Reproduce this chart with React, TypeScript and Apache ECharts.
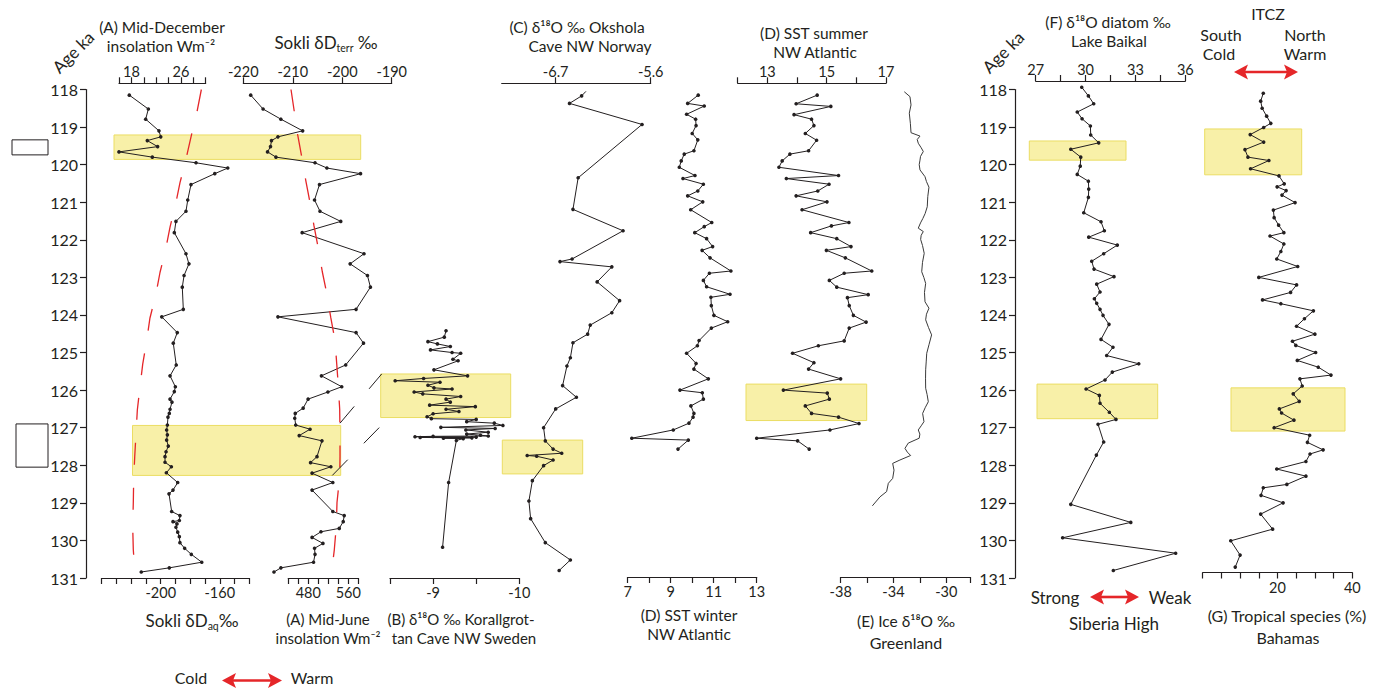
import React, { useEffect, useRef } from "react";
import * as echarts from "echarts";

const FONT = 'Lato, "Noto Sans", "DejaVu Sans", sans-serif';
const INK = "#231f20";
const RED = "#e52629";
const BAND = "#f8f0a8";
const BAND_EDGE = "#ebdd63";

const AGE_MIN = 118;
const AGE_MAX = 131;

// (A) Sokli δDaq (bottom axis)
const aqAge = [118.15,118.52,118.79,119.10,119.26,119.36,119.52,119.66,119.80,119.95,120.09,120.24,120.53,120.94,121.24,121.51,121.81,122.37,122.64,122.95,123.26,123.85,124.05,124.47,124.75,125.33,125.62,125.91,126.04,126.24,126.32,126.51,126.62,126.72,126.93,127.06,127.19,127.33,127.49,127.64,127.77,127.92,128.04,128.20,128.46,128.66,128.76,129.23,129.34,129.47,129.50,129.56,129.65,129.78,129.90,130.06,130.21,130.37,130.58,130.73,130.84];
const aqVal = [-221.3,-208.4,-210.2,-201.2,-200.0,-209.1,-202.1,-228.3,-205.7,-176.1,-154.6,-163.4,-179.5,-181.7,-182.9,-189.7,-190.8,-182.9,-180.9,-184.2,-185.4,-184.7,-199.3,-188.8,-191.5,-189.5,-193.7,-190.1,-190.8,-193.7,-192.4,-193.7,-194.2,-195.1,-195.5,-196.0,-195.5,-196.0,-194.9,-196.4,-197.1,-197.1,-192.8,-196.2,-188.5,-191.7,-194.4,-192.6,-187.0,-187.4,-191.7,-189.0,-189.7,-188.5,-187.4,-187.0,-183.8,-179.3,-172.2,-194.2,-213.2];

// Mid-December insolation (top axis, red dashed)
const decAge = [118.0,118.63,119.26,119.85,120.48,121.04,121.66,122.25,122.87,123.47,124.08,124.68,125.31,125.91,126.53,127.15,127.77,128.37,128.99,129.62,130.25,130.87];
const decVal = [29.3,28.55,27.63,26.82,25.85,25.16,24.24,23.54,22.62,21.93,21.0,20.47,19.83,19.39,18.96,18.75,18.54,18.37,18.31,18.21,18.31,18.58];

// Sokli δDterr (top axis)
const terrAge = [118.15,118.52,118.79,119.10,119.26,119.36,119.52,119.66,119.80,119.95,120.09,120.24,120.53,120.94,121.24,121.51,121.81,122.37,122.64,122.95,123.26,123.85,124.05,124.47,124.75,125.33,125.62,125.91,126.05,126.24,126.48,126.62,126.75,126.93,127.04,127.21,127.35,127.77,127.93,128.04,128.21,128.46,128.66,129.23,129.34,129.50,129.68,129.77,129.92,130.08,130.21,130.37,130.58,130.73,130.84];
const terrVal = [-218.5,-216.0,-212.4,-208.0,-213.0,-214.3,-214.5,-215.1,-213.4,-205.5,-203.1,-196.3,-204.6,-205.6,-204.5,-200.3,-208.1,-195.6,-198.4,-194.9,-194.3,-197.2,-213.0,-197.2,-195.7,-199.3,-204.2,-200.1,-202.9,-206.9,-207.9,-209.5,-209.6,-209.4,-206.5,-208.7,-204.1,-205.1,-206.4,-202.3,-206.1,-201.9,-206.1,-201.9,-199.6,-199.8,-200.6,-204.3,-206.1,-203.9,-205.6,-205.5,-205.8,-212.4,-213.8];

// Mid-June insolation (bottom axis, red dashed)
const junAge = [118.0,118.59,119.21,119.79,120.41,121.01,121.63,122.23,122.85,123.42,124.06,124.67,125.29,125.89,126.51,127.15,127.77,128.3,128.99,129.62,130.25,130.83];
const junVal = [445.4,452,458.8,466.8,474.8,483.4,491.4,500,508,516.8,524.8,533.4,536.8,540,542.8,543.4,543.4,542.8,537.4,536,532,526.8];

// (B) Korallgrottan δ18O
const korAge = [124.42,124.59,124.71,124.77,124.84,124.93,125.00,125.02,125.18,125.22,125.46,125.62,125.69,125.75,125.79,125.87,125.94,125.97,126.05,126.10,126.17,126.24,126.32,126.40,126.44,126.51,126.57,126.63,126.71,126.76,126.78,126.84,126.88,126.94,126.99,127.02,127.06,127.12,127.17,127.20,127.22,127.23,127.24,127.25,127.26,127.27,127.28,127.29,127.34,128.46,130.18];
const korVal = [-9.15,-9.13,-8.94,-9.05,-9.20,-8.97,-9.22,-9.32,-9.23,-9.29,-9.01,-9.40,-8.89,-8.56,-9.08,-8.94,-9.01,-9.22,-8.78,-8.88,-9.32,-9.15,-9.20,-8.96,-9.49,-9.15,-9.30,-9.00,-8.93,-8.98,-9.50,-9.39,-9.71,-9.81,-9.09,-9.72,-9.38,-9.64,-9.39,-9.55,-9.64,-9.00,-8.79,-9.50,-8.85,-9.45,-9.12,-9.35,-9.27,-9.18,-9.11];

// (C) Okshola δ18O
const okAge = [118.05,118.17,118.37,118.93,120.35,121.19,121.76,122.51,122.58,122.72,123.12,123.62,123.94,124.27,124.51,124.74,125.14,125.36,125.88,126.19,126.50,127.00,127.35,127.57,127.68,127.74,127.76,127.86,128.01,128.41,128.95,129.42,130.06,130.52,130.80];
const okVal = [-6.35,-6.40,-6.54,-5.70,-6.44,-6.50,-5.92,-6.51,-6.65,-6.05,-6.22,-5.96,-6.05,-6.30,-6.33,-6.50,-6.53,-6.57,-6.62,-6.46,-6.70,-6.84,-6.82,-6.73,-6.63,-7.03,-6.92,-6.73,-6.84,-6.97,-7.01,-6.99,-6.82,-6.53,-6.66];

// (D) SST winter
const winAge = [118.15,118.37,118.44,118.66,118.79,118.96,119.17,119.34,119.63,119.72,119.90,120.07,120.29,120.37,120.52,120.70,120.83,120.99,121.20,121.54,121.65,121.81,121.97,122.18,122.28,122.48,122.83,122.89,123.08,123.25,123.45,123.53,123.75,124.01,124.18,124.35,124.68,124.82,125.02,125.29,125.44,125.70,126.00,126.07,126.24,126.42,126.62,126.72,126.88,127.06,127.28,127.33,127.57];
const winVal = [10.28,9.79,10.56,9.74,10.16,10.18,10.0,10.26,10.08,9.63,9.49,9.40,10.13,9.57,10.52,10.26,9.79,10.49,9.93,10.91,10.56,10.12,10.67,10.95,10.46,10.83,11.80,10.80,10.52,10.67,11.76,10.87,10.89,11.01,11.65,10.89,10.32,10.24,9.74,10.18,10.08,10.75,9.43,10.47,10.52,9.94,10.08,10.04,9.85,9.12,7.19,9.82,9.34];

// (D) SST summer
const sumAge = [118.15,118.38,118.45,118.67,118.79,118.96,119.17,119.35,119.63,119.72,119.90,120.07,120.29,120.37,120.52,120.70,120.83,120.99,121.20,121.54,121.63,121.81,121.97,122.18,122.28,122.48,122.83,122.89,123.08,123.26,123.46,123.54,123.75,124.01,124.19,124.35,124.69,124.82,125.02,125.27,125.44,125.70,126.00,126.08,126.24,126.42,126.62,126.72,126.89,127.06,127.28,127.35,127.57];
const sumVal = [14.68,13.97,15.14,13.90,14.49,14.57,14.28,14.66,14.39,13.76,13.50,13.39,15.40,13.64,15.08,14.70,13.97,15.01,14.17,15.75,15.16,14.46,15.34,15.82,14.99,15.63,16.52,15.59,15.09,15.34,16.40,15.70,15.76,15.90,16.33,15.76,15.59,14.72,13.85,14.57,14.39,15.47,13.54,15.02,15.09,14.28,14.49,15.40,16.09,15.11,12.64,14.02,14.41];

// (E) Greenland ice δ18O
const iceAge = [118.06,118.19,118.41,118.63,118.90,119.15,119.24,119.33,119.43,119.55,119.65,119.78,119.88,120.00,120.14,120.32,120.45,120.60,120.85,121.12,121.30,121.43,121.55,121.69,121.78,121.88,121.99,122.15,122.36,122.60,122.85,123.00,123.16,123.40,123.65,123.82,123.98,124.13,124.33,124.53,124.78,125.02,125.25,125.46,125.70,125.95,126.12,126.31,126.47,126.62,126.84,126.95,127.06,127.17,127.28,127.41,127.55,127.65,127.74,127.86,127.95,128.13,128.35,128.48,128.70,128.84,129.08];
const iceVal = [-33.18,-32.75,-32.67,-32.80,-32.72,-32.67,-31.99,-32.20,-32.12,-31.90,-31.74,-31.95,-31.99,-32.05,-31.99,-31.61,-31.50,-31.31,-31.40,-31.44,-31.60,-31.77,-31.95,-32.12,-31.74,-31.90,-31.94,-31.80,-31.67,-31.80,-31.86,-31.70,-31.56,-31.65,-31.61,-31.31,-31.50,-31.56,-31.35,-31.11,-31.30,-31.48,-31.52,-31.56,-31.57,-31.56,-31.45,-31.36,-31.60,-31.79,-31.69,-31.90,-32.12,-32.00,-32.05,-32.88,-33.13,-32.95,-32.70,-33.51,-34.06,-33.96,-34.06,-34.39,-34.52,-35.02,-35.60];

// (F) Lake Baikal δ18O diatom
const bkAge = [117.94,118.17,118.38,118.60,118.78,118.97,119.21,119.42,119.59,119.80,120.04,120.26,120.44,120.65,120.87,121.28,121.52,121.76,121.93,122.14,122.37,122.57,122.78,122.98,123.18,123.39,123.57,123.69,123.85,124.01,124.25,124.65,124.86,125.08,125.30,125.52,125.73,125.97,126.14,126.35,126.59,126.78,126.91,127.38,127.73,129.04,129.52,129.93,130.34,130.80];
const bkVal = [29.77,30.17,30.49,29.50,29.79,30.29,30.31,30.79,29.11,29.71,29.68,29.50,30.17,30.19,30.17,29.89,30.93,31.13,30.19,31.91,31.09,30.37,30.51,31.71,30.67,30.87,30.53,30.67,30.87,31.05,31.41,30.93,31.65,31.27,33.20,31.61,31.17,30.03,30.83,30.87,31.43,31.83,30.75,31.09,30.65,29.11,32.72,28.62,35.42,31.67];

// (G) Tropical species Bahamas
const tpAge = [118.10,118.31,118.50,118.71,118.90,119.01,119.20,119.40,119.60,119.80,119.89,120.11,120.30,120.51,120.59,120.69,120.81,121.01,121.21,121.41,121.61,121.81,121.90,122.11,122.31,122.51,122.71,123.00,123.20,123.40,123.60,123.70,123.89,124.10,124.30,124.51,124.70,124.81,125.00,125.21,125.39,125.60,125.70,125.89,126.10,126.30,126.50,126.61,126.80,127.00,127.20,127.39,127.59,127.70,127.90,128.10,128.29,128.51,128.60,128.80,129.00,129.30,129.70,130.01,130.39,130.71];
const tpVal = [16.2,15.5,15.9,17.1,18.2,16.3,12.7,16.3,11.3,12.1,17.7,12.8,20.4,21.8,19.9,22.3,21.2,24.7,18.9,19.1,20.3,21.7,18.0,21.7,20.9,19.8,25.4,15.0,25.1,23.5,16.0,20.9,29.6,27.2,25.1,30.0,24.0,24.9,30.2,25.3,30.9,34.3,26.0,26.6,24.2,25.8,20.5,21.1,24.4,19.1,28.6,28.0,32.2,28.7,27.6,19.8,27.6,22.5,16.2,15.6,21.5,15.5,18.7,7.5,10.0,8.7];

// Axis ticks / labels
const decTicks = [16, 18, 20, 22, 24, 26, 28, 30];
const decLabels = [18, 26];
const aqTicks = [-240, -230, -220, -210, -200, -190, -180, -170, -160, -150, -140];
const aqLabels = [-200, -160];
const terrTicks = [-220, -210, -200, -190];
const terrLabels = [-220, -210, -200, -190];
const junTicks = [440, 460, 480, 500, 520, 540, 560, 580];
const junLabels = [480, 560];
const korTicks = [-8.5, -9, -9.5, -10];
const korLabels = [-9, -10];
const okTicks = [-6.7, -5.6];
const okLabels = [-6.7, -5.6];
const winTicks = [7, 8, 9, 10, 11, 12, 13];
const winLabels = [7, 9, 11, 13];
const sumTicks = [12, 13, 14, 15, 16, 17];
const sumLabels = [13, 15, 17];
const iceTicks = [-38, -36, -34, -32, -30, -28.2];
const iceLabels = [-38, -34, -30];
const bkTicks = [27, 28.5, 30, 31.5, 33, 34.5, 36];
const bkLabels = [27, 30, 33, 36];
const tpTicks = [0, 5, 10, 15, 20, 25, 30, 35, 40];
const tpLabels = [20, 40];

// Highlighted intervals (ages) and correlation links
const bandAges = [[119.21, 119.86], [126.94, 128.27], [125.57, 126.73], [127.33, 128.23], [125.84, 126.81], [119.37, 119.88], [125.84, 126.76], [119.05, 120.27], [125.94, 127.09]];
const boxAges = [[119.34, 119.74], [126.9, 128.05]];
const linkAges = [[126.88, 125.57], [128.27, 126.93]];

// Layout (pixels) — kept apart from data
const PLOT_TOP = 89.5;
const PLOT_H = 488.5;
const bandSpan = [[114, 360.7], [132.5, 340.7], [380.7, 510.7], [502.3, 582.7], [746, 866.7], [1029.3, 1126], [1037, 1157.7], [1204.7, 1301.7], [1231, 1345]];
const boxSpan = [[12, 48], [16, 48]];
const linkSpan = [[340, 381.7], [332.3, 381.7]];

const zip = (age: number[], val: number[]) => age.map((a, i) => [val[i], a]);

type PanelDef = {
  left: number; width: number; min: number; max: number;
  pos: "top" | "bottom"; ticks: number[]; labels: number[];
  offset?: number; inverse?: boolean;
};

const panels: PanelDef[] = [
  { left: 101.7, width: 147.6, min: -240, max: -140, pos: "bottom", ticks: aqTicks, labels: aqLabels },
  { left: 119, width: 86.7, min: 16, max: 30, pos: "top", ticks: decTicks, labels: decLabels, offset: 6.2 },
  { left: 243.3, width: 148.4, min: -220, max: -190, pos: "top", ticks: terrTicks, labels: terrLabels, offset: 6.2 },
  { left: 288.3, width: 70, min: 440, max: 580, pos: "bottom", ticks: junTicks, labels: junLabels },
  { left: 390, width: 129.3, min: -10, max: -8.5, pos: "bottom", ticks: korTicks, labels: korLabels, inverse: true },
  { left: 501.7, width: 149, min: -7.325, max: -5.6, pos: "top", ticks: okTicks, labels: okLabels, offset: 6.2 },
  { left: 627.7, width: 129, min: 7, max: 13, pos: "bottom", ticks: winTicks, labels: winLabels, offset: -1 },
  { left: 737.7, width: 148.3, min: 12, max: 17, pos: "top", ticks: sumTicks, labels: sumLabels, offset: 6.2 },
  { left: 840.7, width: 129.3, min: -38, max: -28.2, pos: "bottom", ticks: iceTicks, labels: iceLabels, offset: -1 },
  { left: 1035.7, width: 149.6, min: 27, max: 36, pos: "top", ticks: bkTicks, labels: bkLabels, offset: 8.5 },
  { left: 1202.7, width: 149.6, min: 0, max: 40, pos: "bottom", ticks: tpTicks, labels: tpLabels, offset: -5.5 },
];

function buildOption() {
  const grids: any[] = [];
  const xAxes: any[] = [];
  const yAxes: any[] = [];
  const hiddenY = (gi: number) => ({ type: "value", gridIndex: gi, min: AGE_MIN, max: AGE_MAX, inverse: true, show: false });
  const ageAxis = (gi: number) => ({
    type: "value", gridIndex: gi, min: AGE_MIN, max: AGE_MAX, inverse: true, interval: 1, position: "left",
    axisLine: { show: true, onZero: false, lineStyle: { color: INK, width: 1.2 } },
    axisTick: { show: true, length: 6, lineStyle: { color: INK, width: 1.2 } },
    axisLabel: { show: true, color: INK, fontSize: 16, fontFamily: FONT, margin: 8 },
    splitLine: { show: false },
  });
  const gridAt = (left: number, width: number) => ({ left, width, top: PLOT_TOP, height: PLOT_H, outerBoundsMode: "none", containLabel: false });

  grids.push(gridAt(86, 20));
  xAxes.push({ type: "value", gridIndex: 0, show: false, min: 0, max: 1 });
  yAxes.push(ageAxis(0));

  panels.forEach((p, k) => {
    const gi = k + 1;
    grids.push(gridAt(p.left, p.width));
    xAxes.push({
      type: "value", gridIndex: gi, min: p.min, max: p.max, position: p.pos, inverse: !!p.inverse,
      offset: p.offset || 0,
      axisLine: { show: true, onZero: false, lineStyle: { color: INK, width: 1.2 } },
      axisTick: { show: true, length: 6, customValues: p.ticks, lineStyle: { color: INK, width: 1.2 } },
      axisLabel: { show: true, customValues: p.labels, color: INK, fontSize: 14.5, fontFamily: FONT, margin: p.pos === "top" ? 4 : 7 },
      splitLine: { show: false },
    });
    yAxes.push(hiddenY(gi));
  });

  grids.push(gridAt(1015, 20));
  xAxes.push({ type: "value", gridIndex: 12, show: false, min: 0, max: 1 });
  yAxes.push(ageAxis(12));

  grids.push(gridAt(0, 1376));
  xAxes.push({ type: "value", gridIndex: 13, show: false, min: 0, max: 1376 });
  yAxes.push(hiddenY(13));

  const dotLine = (gi: number, data: any[]) => ({
    type: "line", xAxisIndex: gi, yAxisIndex: gi, data, clip: false,
    symbol: "circle", symbolSize: 3.6, showSymbol: true, showAllSymbol: true,
    lineStyle: { color: INK, width: 1 }, itemStyle: { color: INK }, z: 3, silent: true,
  });
  const dashLine = (gi: number, data: number[][]) => ({
    type: "line", xAxisIndex: gi, yAxisIndex: gi, data, clip: false, symbol: "none",
    lineStyle: { color: RED, width: 1.3, type: [22, 23] }, z: 3, silent: true,
  });

  const areas: any[] = [];
  bandAges.forEach((b, i) => {
    areas.push([
      { coord: [bandSpan[i][0], b[0]], itemStyle: { color: BAND, borderColor: BAND_EDGE, borderWidth: 1 } },
      { coord: [bandSpan[i][1], b[1]] },
    ]);
  });
  boxAges.forEach((b, i) => {
    areas.push([
      { coord: [boxSpan[i][0], b[0]], itemStyle: { color: "#ffffff", borderColor: INK, borderWidth: 1 } },
      { coord: [boxSpan[i][1], b[1]] },
    ]);
  });
  const links = linkAges.map((l, i) => [
    { coord: [linkSpan[i][0], l[0]] },
    { coord: [linkSpan[i][1], l[1]] },
  ]);

  // Okshola record begins with an undotted line end
  const okData: any[] = zip(okAge, okVal).map((p, i) => (i === 0 ? { value: p, symbol: "none" } : p));

  const series: any[] = [
    {
      type: "line", xAxisIndex: 13, yAxisIndex: 13, data: [], symbol: "none", silent: true, z: 1,
      markArea: { silent: true, label: { show: false }, data: areas },
      markLine: { silent: true, symbol: ["none", "none"], label: { show: false }, lineStyle: { color: INK, width: 1, type: [22, 23] }, data: links },
    },
    dotLine(1, zip(aqAge, aqVal)),
    dashLine(2, zip(decAge, decVal)),
    dotLine(3, zip(terrAge, terrVal)),
    dashLine(4, zip(junAge, junVal)),
    dotLine(5, zip(korAge, korVal)),
    dotLine(6, okData),
    dotLine(7, zip(winAge, winVal)),
    dotLine(8, zip(sumAge, sumVal)),
    {
      type: "line", xAxisIndex: 9, yAxisIndex: 9, data: zip(iceAge, iceVal), clip: false, symbol: "none",
      lineStyle: { color: "#3a3a3a", width: 1 }, z: 3, silent: true,
    },
    dotLine(10, zip(bkAge, bkVal)),
    dotLine(11, zip(tpAge, tpVal)),
  ];

  const txt = (x: number, y: number, text: string, size = 15, rot = 0) => ({
    type: "text", x, y, rotation: rot, silent: true, z: 10,
    style: { text, fontSize: size, fontFamily: FONT, fill: INK, align: "center", verticalAlign: "middle" },
  });
  const subTxt = (x: number, y: number, main: string, sub: string, tail: string, size = 17) => ({
    type: "text", x, y, silent: true, z: 10,
    style: {
      text: `{m|${main}}{s|${sub}}{m|${tail}}`, align: "center", verticalAlign: "middle",
      rich: {
        m: { fontSize: size, fontFamily: FONT, fill: INK, lineHeight: 22 },
        s: { fontSize: 10.5, fontFamily: FONT, fill: INK, lineHeight: 12, verticalAlign: "bottom" },
      },
    },
  });
  const arrow = (x1: number, x2: number, y: number) => [
    { type: "line", silent: true, z: 10, shape: { x1: x1 + 10, y1: y, x2: x2 - 10, y2: y }, style: { stroke: RED, lineWidth: 2.6 } },
    { type: "polygon", silent: true, z: 10, shape: { points: [[x1, y], [x1 + 14, y - 7.5], [x1 + 11, y], [x1 + 14, y + 7.5]] }, style: { fill: RED } },
    { type: "polygon", silent: true, z: 10, shape: { points: [[x2, y], [x2 - 14, y - 7.5], [x2 - 11, y], [x2 - 14, y + 7.5]] }, style: { fill: RED } },
  ];

  const graphic = [
    txt(73, 52, "Age ka", 17, Math.PI / 4),
    txt(1003, 52, "Age ka", 17, Math.PI / 4),
    txt(162, 27, "(A) Mid-December", 15.5),
    txt(161, 46, "insolation Wm⁻²", 15.5),
    subTxt(326, 42, "Sokli δD", "terr", " ‰", 17),
    txt(577, 27, "(C) δ¹⁸O ‰ Okshola", 15.5),
    txt(590, 46, "Cave NW Norway", 15.5),
    txt(814, 33, "(D) SST summer", 15.5),
    txt(815, 52, "NW Atlantic", 15.5),
    txt(1108, 22, "(F) δ¹⁸O diatom ‰", 15.5),
    txt(1109, 41, "Lake Baikal", 15.5),
    txt(1268, 13, "ITCZ", 16),
    txt(1221, 34, "South", 16),
    txt(1219, 53, "Cold", 16),
    txt(1305, 34, "North", 16),
    txt(1305, 53, "Warm", 16),
    ...arrow(1234, 1298, 72),
    subTxt(192, 620, "Sokli δD", "aq", "‰", 17),
    txt(328, 619, "(A) Mid-June", 15),
    txt(328, 637.5, "insolation Wm⁻²", 15),
    txt(461, 619, "(B) δ¹⁸O ‰ Korallgrot-", 15),
    txt(464, 637.5, "tan Cave NW Sweden", 15),
    txt(689, 615, "(D) SST winter", 15.5),
    txt(689, 634, "NW Atlantic", 15.5),
    txt(906, 621, "(E) Ice δ¹⁸O ‰", 15.5),
    txt(906, 642, "Greenland", 16),
    txt(191, 677.5, "Cold", 16),
    txt(312, 677.5, "Warm", 16),
    ...arrow(222, 282, 680.5),
    txt(1055, 597, "Strong", 17),
    txt(1170, 597, "Weak", 17),
    ...arrow(1090, 1139, 597),
    txt(1114, 623, "Siberia High", 17),
    txt(1287, 615, "(G) Tropical species (%)", 16),
    txt(1288, 637, "Bahamas", 16),
  ];

  return {
    animation: false,
    backgroundColor: "#ffffff",
    grid: grids,
    xAxis: xAxes,
    yAxis: yAxes,
    series,
    graphic,
  };
}

export default function App() {
  const ref = useRef<HTMLDivElement>(null);
  useEffect(() => {
    if (!ref.current) return;
    const chart = echarts.init(ref.current, undefined, { renderer: "svg" });
    chart.setOption(buildOption() as any);
    return () => chart.dispose();
  }, []);
  return (
    <div
      ref={ref}
      style={{ position: "absolute", left: 0, top: 0, width: 1376, height: 688, background: "#fff" }}
    />
  );
}
